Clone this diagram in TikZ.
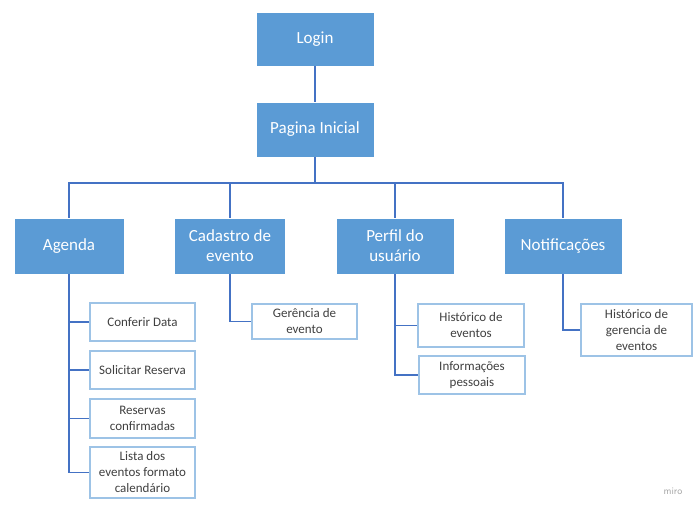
\documentclass[tikz,border=0pt]{standalone}
\usepackage{fontspec}
\setmainfont{Carlito}
\definecolor{boxblue}{HTML}{5B9BD5}
\definecolor{linkblue}{HTML}{4472C4}
\definecolor{subedge}{HTML}{9DC3E6}
\definecolor{subtext}{HTML}{404040}
\definecolor{mirogray}{HTML}{A6A6A6}
\tikzset{
  mainbox/.style={rectangle, fill=boxblue, draw=white, line width=0.6pt, text=white, align=center, inner sep=0pt,
    font=\fontsize{17}{20}\selectfont},
  subbox/.style={rectangle, fill=white, draw=subedge, line width=1.2pt, text=subtext, align=center, inner sep=0pt,
    font=\fontsize{13}{16}\selectfont},
  link/.style={draw=linkblue, line width=1.8pt},
}
\begin{document}
\begin{tikzpicture}[x=1pt,y=-1pt]
\useasboundingbox (0,0) rectangle (700,510);
\fill[white] (0,0) rectangle (700,510);
% main boxes
\node[mainbox, minimum width=118pt, minimum height=54pt] (login) at (315,39) {Login};
\node[mainbox, minimum width=118pt, minimum height=55pt] (pi) at (315,129.5) {Pagina Inicial};
\node[mainbox, minimum width=110pt, minimum height=56pt] (agenda) at (69,246) {Agenda};
\node[mainbox, minimum width=111pt, minimum height=56pt] (cad) at (230,246) {Cadastro de\\evento};
\node[mainbox, minimum width=118pt, minimum height=56pt] (perfil) at (395,246) {Perfil do\\usuário};
\node[mainbox, minimum width=118pt, minimum height=56pt] (notif) at (563,246) {Notificações};
% sub boxes
\node[subbox, minimum width=105pt, minimum height=38pt] (c1) at (142.5,322) {Conferir Data};
\node[subbox, minimum width=105pt, minimum height=38pt] (c2) at (142.5,370) {Solicitar Reserva};
\node[subbox, minimum width=105pt, minimum height=39pt] (c3) at (142.5,418.5) {Reservas\\confirmadas};
\node[subbox, minimum width=105pt, minimum height=51pt] (c4) at (142.5,472.5) {Lista dos\\eventos formato\\calendário};
\node[subbox, minimum width=105pt, minimum height=35pt] (g1) at (304.5,321.5) {Gerência de\\evento};
\node[subbox, minimum width=106pt, minimum height=43pt] (p1) at (471,325.5) {Histórico de\\eventos};
\node[subbox, minimum width=106pt, minimum height=38pt] (p2) at (472,375) {Informações\\pessoais};
\node[subbox, minimum width=111pt, minimum height=52pt] (n1) at (636.5,330) {Histórico de\\gerencia de\\eventos};
% connectors
\coordinate (bus) at (315,183);
\draw[link] (login.south) -- (pi.north);
\draw[link] (pi.south) -- (bus) -| (agenda.north);
\draw[link] (bus) -| (cad.north);
\draw[link] (bus) -| (perfil.north);
\draw[link] (bus) -| (notif.north);
\draw[link] (agenda.south) |- (c1.west);
\draw[link] (agenda.south) |- (c2.west);
\draw[link] (agenda.south) |- (c3.west);
\draw[link] (agenda.south) |- (c4.west);
\draw[link] (cad.south) |- (g1.west);
\draw[link] (perfil.south) |- (p1.west);
\draw[link] (perfil.south) |- (p2.west);
\draw[link] (notif.south) |- (n1.west);
% watermark
\node[text=mirogray, font=\fontsize{10}{12}\selectfont\sffamily, inner sep=0pt] (miro) at (673,491) {miro};
\end{tikzpicture}
\end{document}
